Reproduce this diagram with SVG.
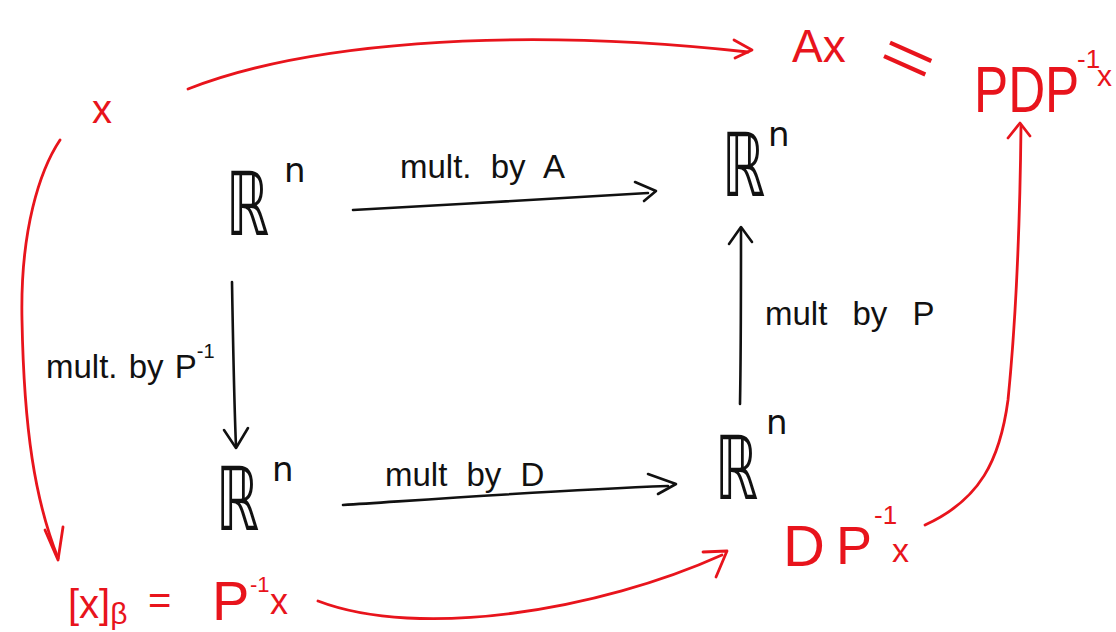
<svg xmlns="http://www.w3.org/2000/svg" width="1116" height="632" viewBox="0 0 1116 632">
<style>
.k{fill:none;stroke:#111;stroke-width:2.6;stroke-linecap:round;stroke-linejoin:round}
.r{fill:none;stroke:#e8141c;stroke-width:2.8;stroke-linecap:round;stroke-linejoin:round}
.kt{font-family:"DejaVu Sans","Liberation Sans",sans-serif;fill:#111}
.rt{font-family:"Liberation Sans","DejaVu Sans",sans-serif;fill:#e8141c}
.lbl{font-family:"Liberation Sans","DejaVu Sans",sans-serif;fill:#111;font-size:33px;word-spacing:10px}
.R{font-size:88px}
.sup{font-size:34px}
</style>
<rect width="1116" height="632" fill="#fff"/>
<g id="connectors">
  <g id="e-top-A">
    <path class="k" d="M353,210 C450,205 560,198 648,193"/>
    <path class="k" d="M635,182 L656,191 L644,201"/>
  </g>
  <g id="e-bottom-D">
    <path class="k" d="M343,505 C450,498 560,490 668,486"/>
    <path class="k" d="M648,474 L676,484 L658,494"/>
  </g>
  <g id="e-left-Pinv">
    <path class="k" d="M232,282 C233,340 234,400 236,446"/>
    <path class="k" d="M224,430 L236,448 L248,428"/>
  </g>
  <g id="e-right-P">
    <path class="k" d="M740,404 C741,350 741,290 741,230"/>
    <path class="k" d="M729,244 L741,227 L752,242"/>
  </g>
  <g id="e-red-top">
    <path class="r" d="M188,89 C300,45 500,25 748,52"/>
    <path class="r" d="M734,40 L752,50 L735,58"/>
  </g>
  <g id="e-red-left">
    <path class="r" d="M60,140 C40,170 20,230 22,320 C24,430 35,500 58,558"/>
    <path class="r" d="M45,530 L58,560 L63,527"/>
  </g>
  <g id="e-red-bottom">
    <path class="r" d="M318,601 C420,640 600,610 722,555"/>
    <path class="r" d="M703,552 L727,551 L716,577"/>
  </g>
  <g id="e-red-right">
    <path class="r" d="M925,525 C980,500 1000,460 1008,400 C1016,320 1020,220 1021,126"/>
    <path class="r" d="M1008,138 L1020,123 L1030,136"/>
  </g>
</g>
<g id="labels">
  <text class="lbl" x="400" y="178">mult. by A</text>
  <text class="lbl" x="385" y="486">mult by D</text>
  <text class="lbl" x="46" y="378" style="word-spacing:2px">mult. by P<tspan dy="-20" font-size="20">-1</tspan></text>
  <text class="lbl" x="765" y="325" style="word-spacing:16px">mult by P</text>
</g>
<g id="n-R-topleft"><text class="kt R" transform="translate(226,235) scale(0.62,1)">ℝ</text><text class="kt sup" x="284" y="182">n</text></g>
<g id="n-R-topright"><text class="kt R" transform="translate(722,196) scale(0.62,1)">ℝ</text><text class="kt sup" x="768" y="146">n</text></g>
<g id="n-R-botleft"><text class="kt R" transform="translate(216,530) scale(0.62,1)">ℝ</text><text class="kt sup" x="272" y="481">n</text></g>
<g id="n-R-botright"><text class="kt R" transform="translate(715,499) scale(0.62,1)">ℝ</text><text class="kt sup" x="766" y="434">n</text></g>
<g id="n-x"><text class="rt" x="92" y="123" font-size="40">x</text></g>
<g id="n-Ax"><text class="rt" x="792" y="62" font-size="46">Ax</text></g>
<g id="n-eq"><text class="rt" x="0" y="0" font-size="62" text-anchor="middle" transform="translate(908,58) rotate(24) scale(1.5,0.95) translate(0,21)">=</text></g>
<g id="n-PDPx">
  <text class="rt" font-size="64" transform="translate(974,112) scale(0.8,1)">PDP</text>
  <text class="rt" x="1077" y="68" font-size="26">-1</text>
  <text class="rt" x="1097" y="86" font-size="30">x</text>
</g>
<g id="n-DPx">
  <text class="rt" x="783" y="566" font-size="58">D</text>
  <text class="rt" x="836" y="564" font-size="54">P</text>
  <text class="rt" x="874" y="524" font-size="26">-1</text>
  <text class="rt" x="892" y="562" font-size="34">x</text>
</g>
<g id="n-xB">
  <text class="rt" x="68" y="618" font-size="40">[x]<tspan font-size="30" dy="6">β</tspan></text>
  <text class="rt" x="148" y="614" font-size="40">=</text>
  <text class="rt" x="212" y="620" font-size="56">P</text>
  <text class="rt" x="250" y="592" font-size="22">-1</text>
  <text class="rt" x="270" y="614" font-size="36">x</text>
</g>
</svg>
